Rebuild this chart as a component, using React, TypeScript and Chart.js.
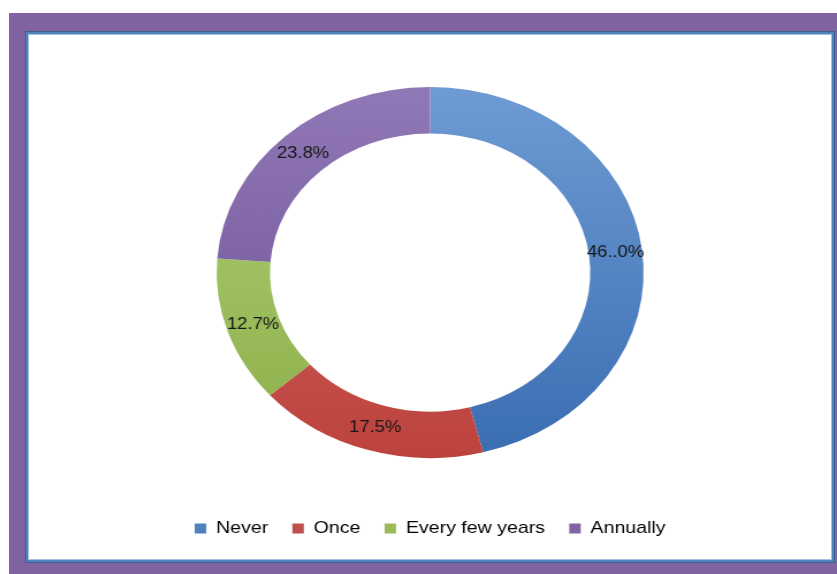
import React, { useEffect, useRef } from "react";
import { Chart, registerables } from "chart.js";

Chart.register(...registerables);

const categories = ["Never", "Once", "Every few years", "Annually"];
const values = [46.0, 17.5, 12.7, 23.8];
const valueLabels = ["46..0%", "17.5%", "12.7%", "23.8%"];
const legendColors = ["#4F81BD", "#C0504D", "#9BBB59", "#8064A2"];
const gradientTop = ["#6E9BD3", "#D9706B", "#B2D17A", "#9178B6"];
const gradientBottom = ["#3A6DB2", "#BC423D", "#8BAE47", "#6C4F93"];

const SCALE_X = 1.151;
const CANVAS_W = 697;
const CANVAS_H = 524;
const FONT = "'Liberation Sans', Arial, sans-serif";

const ringLabels = {
  id: "ringLabels",
  afterDatasetsDraw(chart: any) {
    const meta = chart.getDatasetMeta(0);
    const ctx = chart.ctx;
    ctx.save();
    ctx.font = `16px ${FONT}`;
    ctx.fillStyle = "#161616";
    ctx.textAlign = "center";
    ctx.textBaseline = "middle";
    meta.data.forEach((arc: any, i: number) => {
      const p = arc.getProps(["x", "y", "startAngle", "endAngle", "innerRadius", "outerRadius"], true);
      const a = (p.startAngle + p.endAngle) / 2;
      const r = (p.innerRadius + p.outerRadius) / 2;
      ctx.fillText(valueLabels[i], p.x + Math.cos(a) * r, p.y + Math.sin(a) * r);
    });
    ctx.restore();
  },
};

export default function App() {
  const ref = useRef<HTMLCanvasElement>(null);

  useEffect(() => {
    if (!ref.current) return;
    const chart = new Chart(ref.current, {
      type: "doughnut",
      data: {
        labels: categories,
        datasets: [
          {
            data: values,
            borderWidth: 0,
            radius: 185.5,
            cutout: "75%",
            backgroundColor: (c: any) => {
              const ch = c.chart;
              const area = ch.chartArea;
              const i = c.dataIndex;
              if (!area) return legendColors[i];
              const cy = (area.top + area.bottom) / 2;
              const g = ch.ctx.createLinearGradient(0, cy - 185.5, 0, cy + 185.5);
              g.addColorStop(0, gradientTop[i]);
              g.addColorStop(1, gradientBottom[i]);
              return g;
            },
          },
        ],
      },
      options: {
        responsive: false,
        animation: false,
        layout: { padding: { top: 11, bottom: 12, left: 0, right: 0 } },
        plugins: {
          tooltip: { enabled: false },
          legend: {
            position: "bottom",
            labels: {
              boxWidth: 10,
              boxHeight: 10,
              padding: 21,
              color: "#1a1a1a",
              font: { size: 17, family: FONT },
              generateLabels: () =>
                categories.map((t, i) => ({
                  text: t,
                  fillStyle: legendColors[i],
                  strokeStyle: legendColors[i],
                  lineWidth: 0,
                  hidden: false,
                  index: i,
                })),
            },
          },
        },
      },
      plugins: [ringLabels],
    });
    return () => chart.destroy();
  }, []);

  return (
    <div style={{ position: "fixed", left: 0, top: 0, width: 837, height: 574, background: "#ffffff", overflow: "hidden" }}>
      <div style={{ position: "absolute", left: 9, top: 13, width: 828, height: 561, background: "#8064A2" }} />
      <div
        style={{
          position: "absolute",
          left: 26,
          top: 32,
          width: 808,
          height: 530,
          boxSizing: "border-box",
          background: "#ffffff",
          border: "2px solid #4F81BD",
          boxShadow: "0 0 0 1px #3F5E8C, inset 0 0 0 1px #A4C1E4",
        }}
      />
      <div
        style={{
          position: "absolute",
          left: 29,
          top: 35,
          width: CANVAS_W,
          height: CANVAS_H,
          transform: `scaleX(${SCALE_X})`,
          transformOrigin: "0 0",
        }}
      >
        <canvas ref={ref} width={CANVAS_W} height={CANVAS_H} style={{ width: CANVAS_W, height: CANVAS_H, display: "block" }} />
      </div>
    </div>
  );
}
